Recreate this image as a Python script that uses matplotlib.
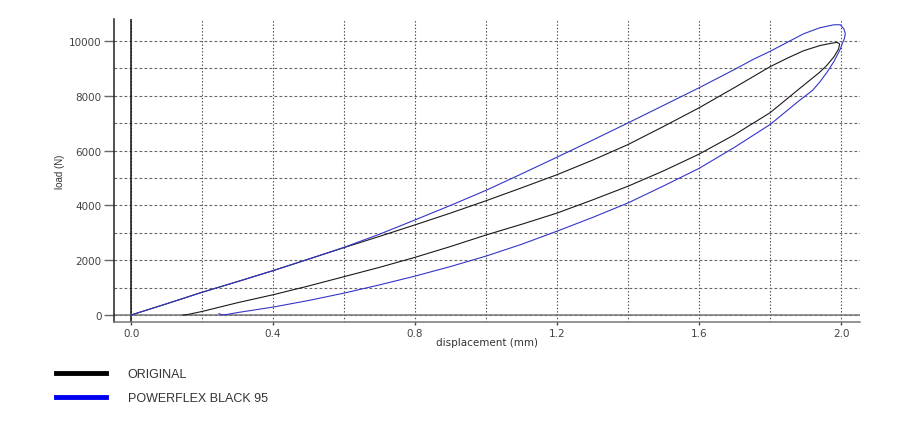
from matplotlib import pyplot as plt
from matplotlib.ticker import MultipleLocator

# ORIGINAL bush: loading branch then unloading branch (mm, N)
orig_disp = [0.0, 0.1, 0.2, 0.3, 0.4, 0.5, 0.6, 0.7, 0.8, 0.9, 1.0, 1.1, 1.2, 1.3,
             1.4, 1.5, 1.6, 1.7, 1.8, 1.85, 1.894, 1.94, 1.97, 1.989, 1.996,
             1.993, 1.98, 1.96, 1.94, 1.88, 1.8, 1.7, 1.6, 1.5, 1.4, 1.3, 1.2, 1.1,
             1.0, 0.9, 0.8, 0.7, 0.6, 0.5, 0.4, 0.3, 0.2, 0.16, 0.146]
orig_load = [0, 410, 830, 1220, 1620, 2040, 2460, 2870, 3290, 3720, 4170, 4640, 5120, 5650,
             6220, 6880, 7560, 8300, 9060, 9380, 9640, 9830, 9910, 9950, 9890,
             9705, 9420, 9110, 8860, 8230, 7380, 6580, 5870, 5260, 4700, 4200, 3720, 3310,
             2920, 2500, 2105, 1740, 1400, 1060, 740, 450, 130, 20, 0]

# POWERFLEX BLACK 95
pf_disp = [0.0, 0.1, 0.2, 0.3, 0.4, 0.5, 0.6, 0.7, 0.8, 0.9, 1.0, 1.1, 1.2, 1.3,
           1.4, 1.5, 1.6, 1.7, 1.753, 1.8, 1.85, 1.894, 1.94, 1.98, 1.998, 2.008, 2.012,
           2.009, 2.003, 1.998, 1.98, 1.96, 1.94, 1.92, 1.88, 1.8, 1.7, 1.6, 1.5, 1.4,
           1.3, 1.2, 1.1, 1.0, 0.9, 0.8, 0.7, 0.6, 0.5, 0.4, 0.3, 0.27, 0.255, 0.248]
pf_load = [0, 410, 830, 1220, 1620, 2040, 2470, 2950, 3470, 4000, 4550, 5150, 5760, 6380,
           7010, 7650, 8290, 8960, 9330, 9620, 9960, 10258, 10480, 10590, 10590, 10440, 10260,
           10070, 9890, 9705, 9250, 8850, 8500, 8200, 7800, 6950, 6120, 5350, 4710, 4090,
           3560, 3060, 2580, 2150, 1770, 1420, 1100, 800, 530, 290, 90, 20, 10, 50]

labels = ["ORIGINAL", "POWERFLEX BLACK 95"]
line_colors = ["#1a1a1a", "#3535c8"]
legend_colors = ["#000000", "#0000ee"]

fig = plt.figure(figsize=(9, 4.39), dpi=100)
ax = fig.add_axes([0.1267, 0.2642, 0.9556 - 0.1267, 0.9544 - 0.2642])

ax.set_xlim(-0.048, 2.0535)
ax.set_ylim(-255, 10800)

# grid: dotted verticals every 0.2, dashed horizontals every 1000
ax.xaxis.set_major_locator(MultipleLocator(0.4))
ax.xaxis.set_minor_locator(MultipleLocator(0.2))
ax.yaxis.set_major_locator(MultipleLocator(2000))
ax.yaxis.set_minor_locator(MultipleLocator(1000))
ax.xaxis.grid(True, which="both", linestyle=(0, (1.2, 1.8)), color="#444444", linewidth=0.8)
ax.yaxis.grid(True, which="both", linestyle=(0, (2.5, 2.0)), color="#666666", linewidth=0.8)
ax.set_axisbelow(True)

ax.axvline(0, color="#111111", linewidth=1.1, zorder=1.5)
ax.axhline(0, color="#777777", linewidth=1.1, zorder=1.5)

l1, = ax.plot(orig_disp, orig_load, color=line_colors[0], linewidth=0.8, label=labels[0])
l2, = ax.plot(pf_disp, pf_load, color=line_colors[1], linewidth=0.8, label=labels[1])

for s in ["top", "right"]:
    ax.spines[s].set_visible(False)
ax.spines["left"].set_color("#222222")
ax.spines["bottom"].set_color("#777777")
ax.spines["left"].set_linewidth(1.1)
ax.spines["bottom"].set_linewidth(1.1)

ax.set_xticks([0.0, 0.4, 0.8, 1.2, 1.6, 2.0])
ax.set_xticklabels(["0.0", "0.4", "0.8", "1.2", "1.6", "2.0"])
ax.set_yticks([0, 2000, 4000, 6000, 8000, 10000])
ax.set_yticklabels(["0", "2000", "4000", "6000", "8000", "10000"])
ax.tick_params(axis="x", which="major", length=2.5, width=1, color="#444444",
               labelsize=7.5, labelcolor="#444444", pad=1.5)
ax.tick_params(axis="y", which="major", length=7.5, width=1, color="#666666",
               labelsize=7.5, labelcolor="#444444", pad=1.5)
ax.tick_params(which="minor", length=0)

ax.set_xlabel("displacement (mm)", fontsize=7.5, color="#333333")
ax.xaxis.set_label_coords(0.5, -0.048)
ax.set_ylabel("load (N)", fontsize=7, color="#333333",
              family=["Liberation Sans Narrow", "Liberation Sans", "DejaVu Sans"])
ax.yaxis.set_label_coords(-0.066, 0.5)

leg = fig.legend([l1, l2], labels, loc="center left", bbox_to_anchor=(0.05, 0.118),
                 frameon=False, handlelength=4.0, handletextpad=1.7, labelspacing=0.95,
                 prop={"family": ["Liberation Sans Narrow", "Liberation Sans"], "size": 9})
for h, c in zip(leg.get_lines(), legend_colors):
    h.set_linewidth(3.5)
    h.set_color(c)
for t in leg.get_texts():
    t.set_color("#333333")

fig.savefig("out.png", dpi=100)
